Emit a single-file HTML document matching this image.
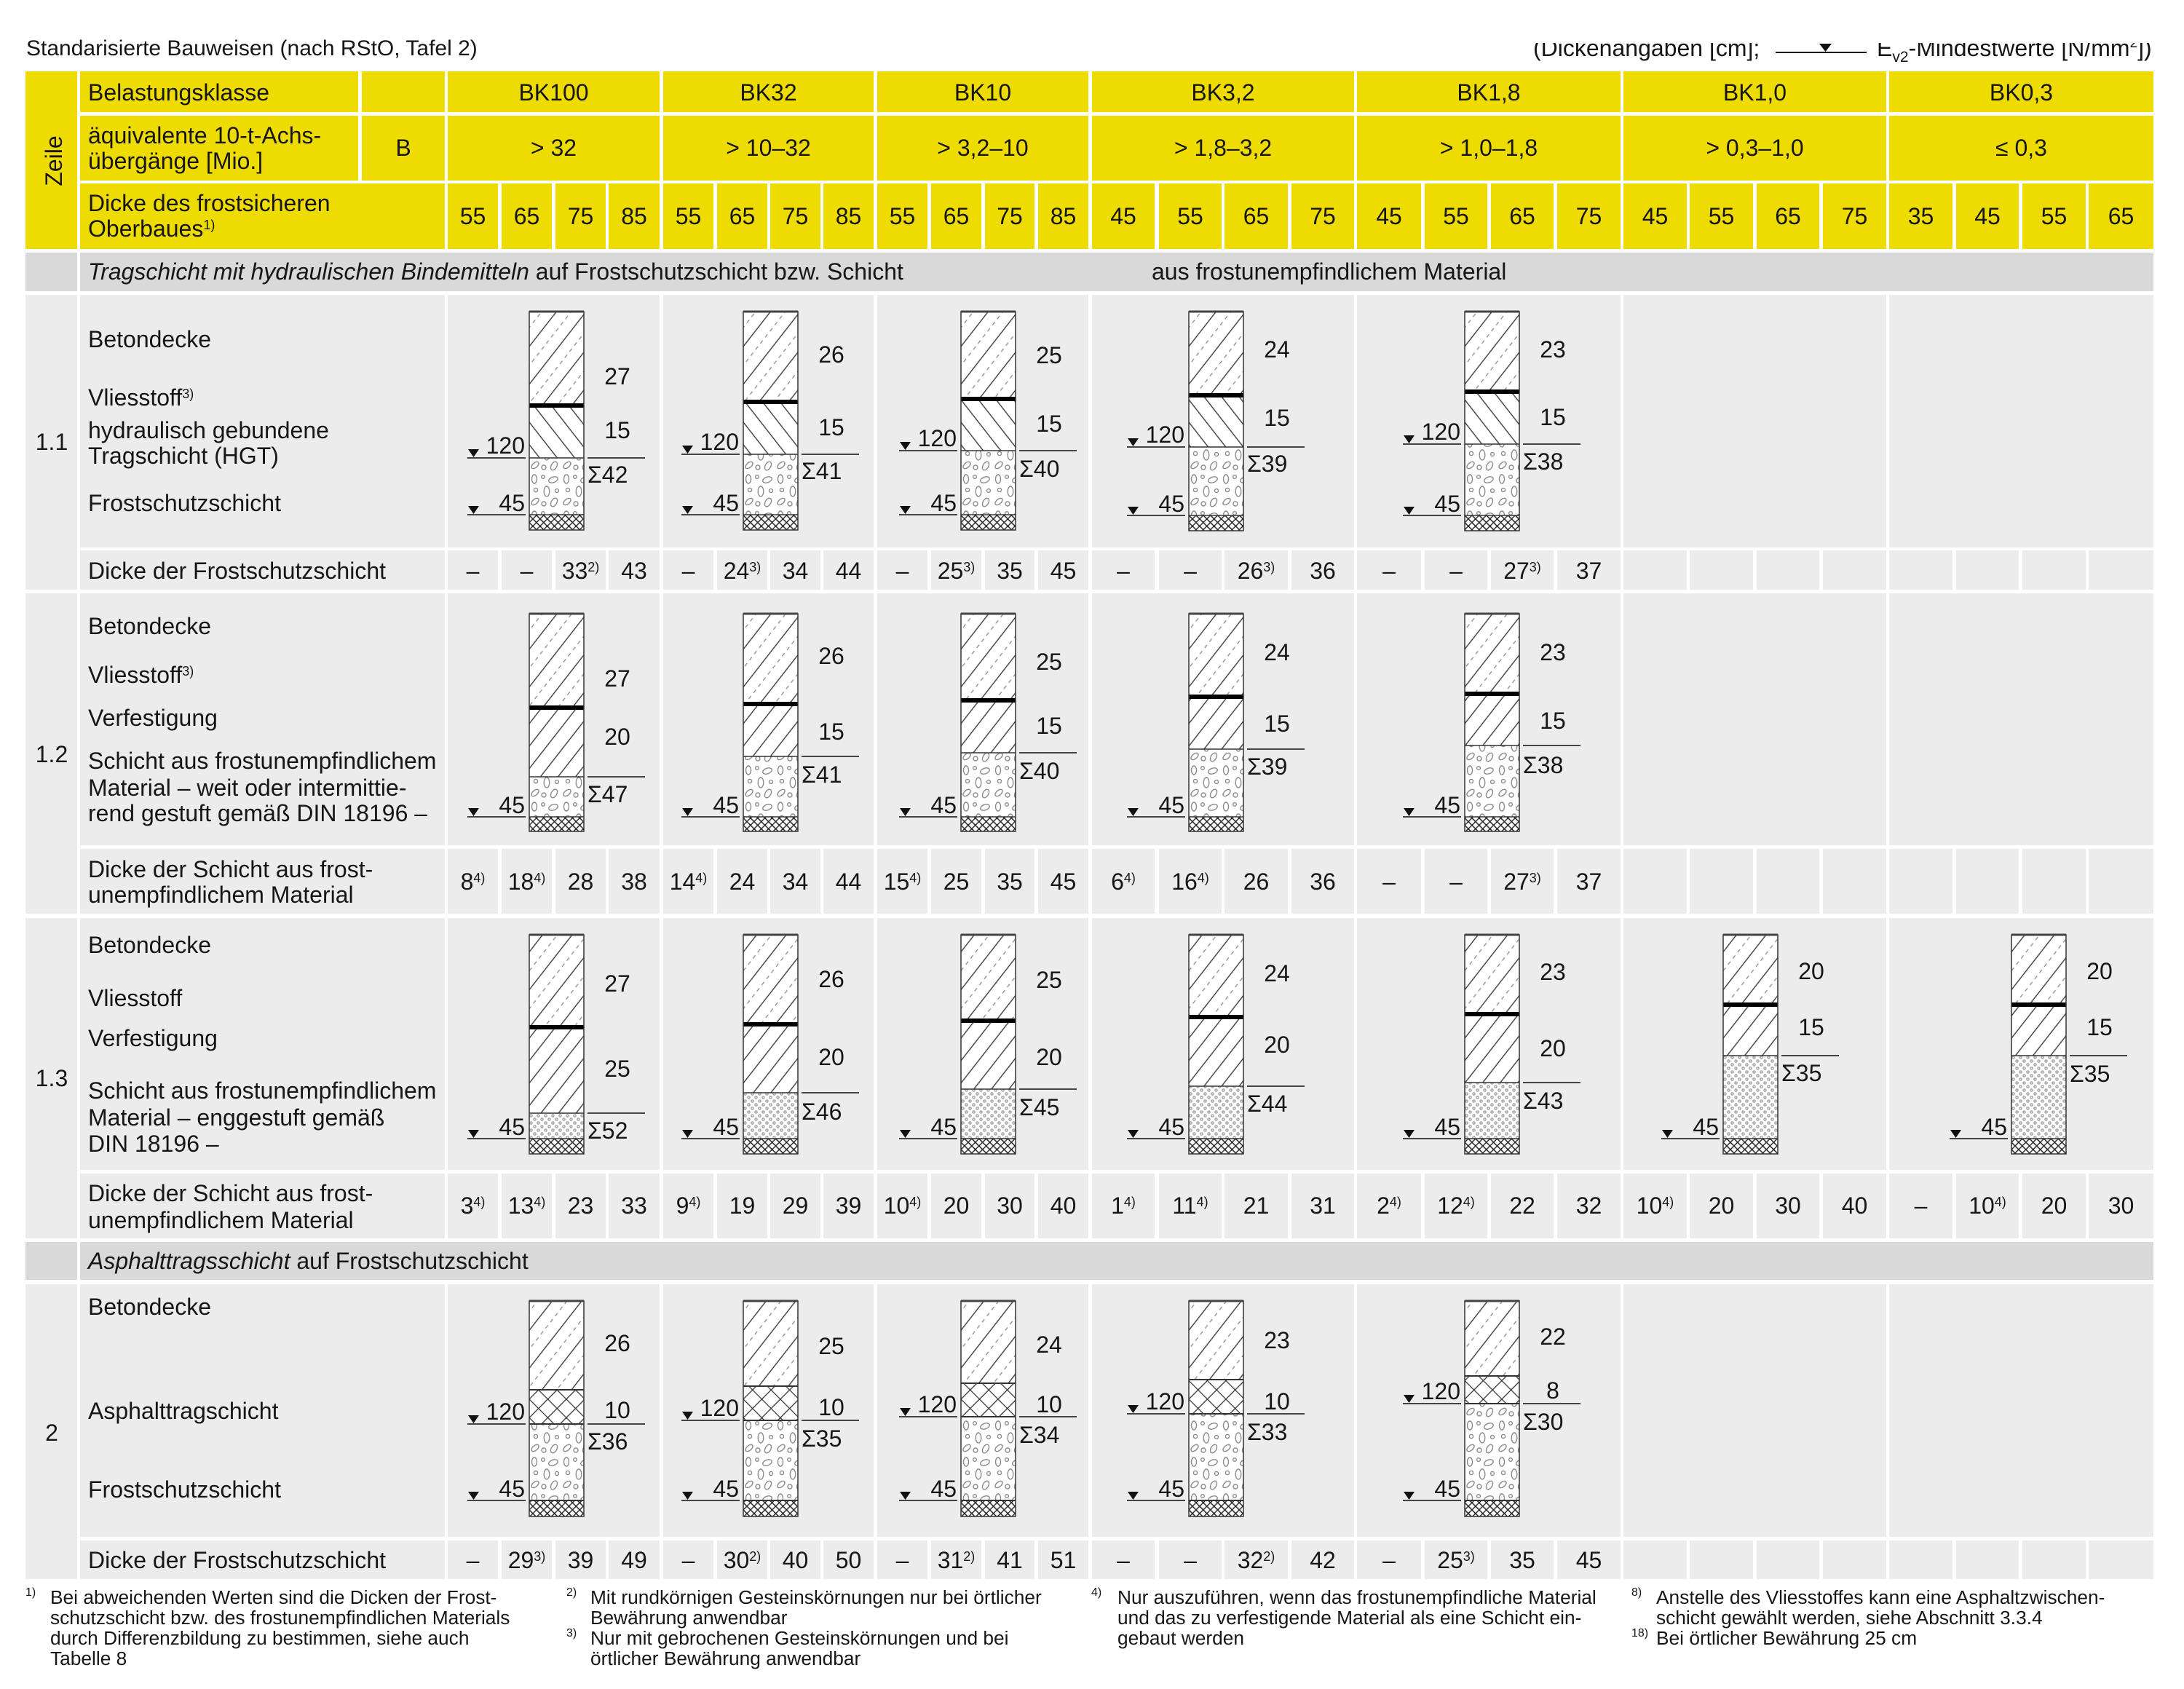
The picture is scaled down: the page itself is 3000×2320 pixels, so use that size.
<!DOCTYPE html>
<html><head><meta charset="utf-8"><style>
html,body{margin:0;padding:0;background:#fff;}
svg{display:block;}
.m{text-anchor:middle}.e{text-anchor:end}
</style></head><body>
<svg xmlns="http://www.w3.org/2000/svg" xmlns:xlink="http://www.w3.org/1999/xlink" width="3000" height="2320" viewBox="0 0 3000 2320" font-family="'Liberation Sans', Arial, Helvetica, sans-serif" font-size="32" fill="#161616">
<defs>
<pattern id="pb" patternUnits="userSpaceOnUse" width="32" height="32" patternTransform="rotate(38)"><rect width="32" height="32" fill="#fff"/><path d="M5,0V32" stroke="#3a3a3a" stroke-width="1.4"/><path d="M21,0V32" stroke="#8a8a8a" stroke-width="1.3" stroke-dasharray="5.33 5.34"/></pattern>
<pattern id="ph" patternUnits="userSpaceOnUse" width="19" height="19" patternTransform="rotate(-38)"><rect width="19" height="19" fill="#fff"/><path d="M4,0V19" stroke="#3a3a3a" stroke-width="1.4"/></pattern>
<pattern id="pv" patternUnits="userSpaceOnUse" width="19" height="19" patternTransform="rotate(38)"><rect width="19" height="19" fill="#fff"/><path d="M4,0V19" stroke="#3a3a3a" stroke-width="1.4"/></pattern>
<pattern id="pa" patternUnits="userSpaceOnUse" width="18" height="18" patternTransform="rotate(45)"><rect width="18" height="18" fill="#fff"/><path d="M9,0V18M0,9H18" stroke="#333" stroke-width="1.3"/></pattern>
<pattern id="pg" patternUnits="userSpaceOnUse" width="44" height="50"><rect width="44" height="50" fill="#fff"/><g fill="none" stroke="#8c8c8c" stroke-width="1.4"><ellipse cx="7" cy="8" rx="3.5" ry="6"/><circle cx="19" cy="5" r="2.3"/><ellipse cx="33" cy="9" rx="6.5" ry="3.8" transform="rotate(-20 33 9)"/><circle cx="9" cy="23" r="2.6"/><ellipse cx="24" cy="25" rx="3.8" ry="7"/><circle cx="38" cy="24" r="2.4"/><ellipse cx="8" cy="39" rx="6" ry="3.3" transform="rotate(-40 8 39)"/><circle cx="20" cy="42" r="3"/><ellipse cx="34" cy="40" rx="3.8" ry="6.3" transform="rotate(30 34 40)"/></g></pattern>
<pattern id="pd" patternUnits="userSpaceOnUse" width="10" height="10"><rect width="10" height="10" fill="#fff"/><g fill="#e4e4e4" stroke="#999" stroke-width="1.1"><circle cx="2.5" cy="2.5" r="1.7"/><circle cx="7.5" cy="7.5" r="1.7"/></g></pattern>
<pattern id="ps" patternUnits="userSpaceOnUse" width="7" height="7" patternTransform="rotate(45)"><rect width="7" height="7" fill="#fff"/><path d="M3.5,0V7M0,3.5H7" stroke="#222" stroke-width="1.4"/></pattern>
<g id="gc"><rect x="615" y="0" width="291" height="1"/><rect x="911" y="0" width="289" height="1"/><rect x="1205" y="0" width="290" height="1"/><rect x="1500" y="0" width="360" height="1"/><rect x="1864" y="0" width="362" height="1"/><rect x="2230" y="0" width="361" height="1"/><rect x="2595" y="0" width="363" height="1"/></g>
<g id="sc"><rect x="615" y="0" width="69" height="1"/><rect x="689" y="0" width="69" height="1"/><rect x="763" y="0" width="69" height="1"/><rect x="836" y="0" width="70" height="1"/><rect x="911" y="0" width="69" height="1"/><rect x="985" y="0" width="69" height="1"/><rect x="1058" y="0" width="69" height="1"/><rect x="1131" y="0" width="69" height="1"/><rect x="1205" y="0" width="69" height="1"/><rect x="1279" y="0" width="69" height="1"/><rect x="1353" y="0" width="68" height="1"/><rect x="1426" y="0" width="69" height="1"/><rect x="1500" y="0" width="86" height="1"/><rect x="1592" y="0" width="86" height="1"/><rect x="1682" y="0" width="87" height="1"/><rect x="1774" y="0" width="86" height="1"/><rect x="1864" y="0" width="88" height="1"/><rect x="1957" y="0" width="86" height="1"/><rect x="2048" y="0" width="86" height="1"/><rect x="2139" y="0" width="87" height="1"/><rect x="2230" y="0" width="87" height="1"/><rect x="2321" y="0" width="87" height="1"/><rect x="2413" y="0" width="86" height="1"/><rect x="2504" y="0" width="87" height="1"/><rect x="2595" y="0" width="87" height="1"/><rect x="2687" y="0" width="86" height="1"/><rect x="2778" y="0" width="87" height="1"/><rect x="2869" y="0" width="89" height="1"/></g>
</defs>

<!-- Title and legend -->
<text x="36" y="76" font-size="30">Standarisierte Bauweisen (nach RStO, Tafel 2)</text>
<text x="2106" y="77" font-size="32">(Dickenangaben [cm];</text>
<path d="M2439,72H2564" stroke="#111" stroke-width="2"/>
<path d="M2499,60h17l-8.5,11z" fill="#111"/>
<text x="2578" y="77" font-size="32">E<tspan font-size="21" dy="8">v2</tspan><tspan dy="-8">-Mindestwerte [N/mm</tspan><tspan font-size="19" dy="-12">2</tspan><tspan dy="12">])</tspan></text>
<rect x="2090" y="0" width="910" height="59" fill="#fff"/>

<!-- Header yellow -->
<g fill="#eedc00">
<rect x="35" y="98" width="71" height="244"/>
<rect x="110" y="98" width="382" height="56"/>
<rect x="497" y="98" width="114" height="56"/>
<rect x="110" y="159" width="382" height="89"/>
<rect x="497" y="159" width="114" height="89"/>
<rect x="110" y="252" width="501" height="90"/>
</g>
<use xlink:href="#gc" href="#gc" fill="#eedc00" transform="translate(0,98) scale(1,56)"/>
<use xlink:href="#gc" href="#gc" fill="#eedc00" transform="translate(0,159) scale(1,89)"/>
<use xlink:href="#sc" href="#sc" fill="#eedc00" transform="translate(0,252) scale(1,90)"/>

<!-- Section headers -->
<g fill="#d9d9d9">
<rect x="35" y="347" width="71" height="53"/><rect x="110" y="347" width="2848" height="53"/>
<rect x="35" y="1706" width="71" height="52"/><rect x="110" y="1706" width="2848" height="52"/>
</g>

<!-- Body cells -->
<g fill="#ececec">
<rect x="35" y="405" width="71" height="405"/>
<rect x="110" y="405" width="501" height="347"/>
<rect x="110" y="756" width="501" height="54"/>
<rect x="35" y="815" width="71" height="440"/>
<rect x="110" y="815" width="501" height="346"/>
<rect x="110" y="1166" width="501" height="89"/>
<rect x="35" y="1261" width="71" height="440"/>
<rect x="110" y="1261" width="501" height="346"/>
<rect x="110" y="1612" width="501" height="89"/>
<rect x="35" y="1764" width="71" height="405"/>
<rect x="110" y="1764" width="501" height="347"/>
<rect x="110" y="2116" width="501" height="53"/>
</g>
<use xlink:href="#gc" href="#gc" fill="#ececec" transform="translate(0,405) scale(1,347)"/>
<use xlink:href="#sc" href="#sc" fill="#ececec" transform="translate(0,756) scale(1,54)"/>
<use xlink:href="#gc" href="#gc" fill="#ececec" transform="translate(0,815) scale(1,346)"/>
<use xlink:href="#sc" href="#sc" fill="#ececec" transform="translate(0,1166) scale(1,89)"/>
<use xlink:href="#gc" href="#gc" fill="#ececec" transform="translate(0,1261) scale(1,346)"/>
<use xlink:href="#sc" href="#sc" fill="#ececec" transform="translate(0,1612) scale(1,89)"/>
<use xlink:href="#gc" href="#gc" fill="#ececec" transform="translate(0,1764) scale(1,347)"/>
<use xlink:href="#sc" href="#sc" fill="#ececec" transform="translate(0,2116) scale(1,53)"/>

<!-- Header text -->
<text transform="translate(85,221) rotate(-90)" class="m">Zeile</text>
<text x="121" y="138">Belastungsklasse</text>
<text y="138" class="m"><tspan x="760.5">BK100</tspan><tspan x="1055.5">BK32</tspan><tspan x="1350">BK10</tspan><tspan x="1680">BK3,2</tspan><tspan x="2045">BK1,8</tspan><tspan x="2410.5">BK1,0</tspan><tspan x="2776.5">BK0,3</tspan></text>
<text x="121" y="197">äquivalente 10-t-Achs-</text>
<text x="121" y="232">übergänge [Mio.]</text>
<text x="554" y="214" class="m">B</text>
<text y="214" class="m"><tspan x="760.5">&gt; 32</tspan><tspan x="1055.5">&gt; 10–32</tspan><tspan x="1350">&gt; 3,2–10</tspan><tspan x="1680">&gt; 1,8–3,2</tspan><tspan x="2045">&gt; 1,0–1,8</tspan><tspan x="2410.5">&gt; 0,3–1,0</tspan><tspan x="2776.5">≤ 0,3</tspan></text>
<text x="121" y="290">Dicke des frostsicheren</text>
<text x="121" y="325">Oberbaues<tspan font-size="18" dy="-10">1)</tspan></text>
<text y="308" class="m"><tspan x="649.5">55</tspan><tspan x="723.5">65</tspan><tspan x="797.5">75</tspan><tspan x="871">85</tspan><tspan x="945.5">55</tspan><tspan x="1019.5">65</tspan><tspan x="1092.5">75</tspan><tspan x="1165.5">85</tspan><tspan x="1239.5">55</tspan><tspan x="1313.5">65</tspan><tspan x="1387">75</tspan><tspan x="1460.5">85</tspan><tspan x="1543">45</tspan><tspan x="1635">55</tspan><tspan x="1725.5">65</tspan><tspan x="1817">75</tspan><tspan x="1908">45</tspan><tspan x="2000">55</tspan><tspan x="2091">65</tspan><tspan x="2182.5">75</tspan><tspan x="2273.5">45</tspan><tspan x="2364.5">55</tspan><tspan x="2456">65</tspan><tspan x="2547.5">75</tspan><tspan x="2638.5">35</tspan><tspan x="2730">45</tspan><tspan x="2821.5">55</tspan><tspan x="2913.5">65</tspan></text>

<!-- Section texts -->
<text x="121" y="384"><tspan font-style="italic">Tragschicht mit hydraulischen Bindemitteln</tspan> auf Frostschutzschicht bzw. Schicht</text>
<text x="1582" y="384">aus frostunempfindlichem Material</text>
<text x="121" y="1743"><tspan font-style="italic">Asphalttragsschicht</tspan> auf Frostschutzschicht</text>

<!-- Row labels -->
<text x="71" y="618" class="m">1.1</text>
<text x="121" y="477">Betondecke</text>
<text x="121" y="557">Vliesstoff<tspan font-size="18" dy="-10">3)</tspan></text>
<text x="121" y="602">hydraulisch gebundene</text>
<text x="121" y="637">Tragschicht (HGT)</text>
<text x="121" y="702">Frostschutzschicht</text>
<text x="121" y="795">Dicke der Frostschutzschicht</text>

<text x="71" y="1047" class="m">1.2</text>
<text x="121" y="871">Betondecke</text>
<text x="121" y="938">Vliesstoff<tspan font-size="18" dy="-10">3)</tspan></text>
<text x="121" y="997">Verfestigung</text>
<text x="121" y="1056">Schicht aus frostunempfindlichem</text>
<text x="121" y="1093">Material – weit oder intermittie-</text>
<text x="121" y="1128">rend gestuft gemäß DIN 18196 –</text>
<text x="121" y="1205">Dicke der Schicht aus frost-</text>
<text x="121" y="1240">unempfindlichem Material</text>

<text x="71" y="1492" class="m">1.3</text>
<text x="121" y="1309">Betondecke</text>
<text x="121" y="1382">Vliesstoff</text>
<text x="121" y="1437">Verfestigung</text>
<text x="121" y="1509">Schicht aus frostunempfindlichem</text>
<text x="121" y="1546">Material – enggestuft gemäß</text>
<text x="121" y="1582">DIN 18196 –</text>
<text x="121" y="1650">Dicke der Schicht aus frost-</text>
<text x="121" y="1687">unempfindlichem Material</text>

<text x="71" y="1979" class="m">2</text>
<text x="121" y="1806">Betondecke</text>
<text x="121" y="1949">Asphalttragschicht</text>
<text x="121" y="2057">Frostschutzschicht</text>
<text x="121" y="2154">Dicke der Frostschutzschicht</text>

<!-- Dicke values row 1.1 -->
<g class="m">
<text x="649.5" y="795">–</text><text x="723.5" y="795">–</text><text x="797.5" y="795">33<tspan font-size="18" dy="-10">2)</tspan></text><text x="871" y="795">43</text>
<text x="945.5" y="795">–</text><text x="1019.5" y="795">24<tspan font-size="18" dy="-10">3)</tspan></text><text x="1092.5" y="795">34</text><text x="1165.5" y="795">44</text>
<text x="1239.5" y="795">–</text><text x="1313.5" y="795">25<tspan font-size="18" dy="-10">3)</tspan></text><text x="1387" y="795">35</text><text x="1460.5" y="795">45</text>
<text x="1543" y="795">–</text><text x="1635" y="795">–</text><text x="1725.5" y="795">26<tspan font-size="18" dy="-10">3)</tspan></text><text x="1817" y="795">36</text>
<text x="1908" y="795">–</text><text x="2000" y="795">–</text><text x="2091" y="795">27<tspan font-size="18" dy="-10">3)</tspan></text><text x="2182.5" y="795">37</text>
</g>
<!-- row 1.2 -->
<g class="m">
<text x="649.5" y="1222">8<tspan font-size="18" dy="-10">4)</tspan></text><text x="723.5" y="1222">18<tspan font-size="18" dy="-10">4)</tspan></text><text x="797.5" y="1222">28</text><text x="871" y="1222">38</text>
<text x="945.5" y="1222">14<tspan font-size="18" dy="-10">4)</tspan></text><text x="1019.5" y="1222">24</text><text x="1092.5" y="1222">34</text><text x="1165.5" y="1222">44</text>
<text x="1239.5" y="1222">15<tspan font-size="18" dy="-10">4)</tspan></text><text x="1313.5" y="1222">25</text><text x="1387" y="1222">35</text><text x="1460.5" y="1222">45</text>
<text x="1543" y="1222">6<tspan font-size="18" dy="-10">4)</tspan></text><text x="1635" y="1222">16<tspan font-size="18" dy="-10">4)</tspan></text><text x="1725.5" y="1222">26</text><text x="1817" y="1222">36</text>
<text x="1908" y="1222">–</text><text x="2000" y="1222">–</text><text x="2091" y="1222">27<tspan font-size="18" dy="-10">3)</tspan></text><text x="2182.5" y="1222">37</text>
</g>
<!-- row 1.3 -->
<g class="m">
<text x="649.5" y="1667">3<tspan font-size="18" dy="-10">4)</tspan></text><text x="723.5" y="1667">13<tspan font-size="18" dy="-10">4)</tspan></text><text x="797.5" y="1667">23</text><text x="871" y="1667">33</text>
<text x="945.5" y="1667">9<tspan font-size="18" dy="-10">4)</tspan></text><text x="1019.5" y="1667">19</text><text x="1092.5" y="1667">29</text><text x="1165.5" y="1667">39</text>
<text x="1239.5" y="1667">10<tspan font-size="18" dy="-10">4)</tspan></text><text x="1313.5" y="1667">20</text><text x="1387" y="1667">30</text><text x="1460.5" y="1667">40</text>
<text x="1543" y="1667">1<tspan font-size="18" dy="-10">4)</tspan></text><text x="1635" y="1667">11<tspan font-size="18" dy="-10">4)</tspan></text><text x="1725.5" y="1667">21</text><text x="1817" y="1667">31</text>
<text x="1908" y="1667">2<tspan font-size="18" dy="-10">4)</tspan></text><text x="2000" y="1667">12<tspan font-size="18" dy="-10">4)</tspan></text><text x="2091" y="1667">22</text><text x="2182.5" y="1667">32</text>
<text x="2273.5" y="1667">10<tspan font-size="18" dy="-10">4)</tspan></text><text x="2364.5" y="1667">20</text><text x="2456" y="1667">30</text><text x="2547.5" y="1667">40</text>
<text x="2638.5" y="1667">–</text><text x="2730" y="1667">10<tspan font-size="18" dy="-10">4)</tspan></text><text x="2821.5" y="1667">20</text><text x="2913.5" y="1667">30</text>
</g>
<!-- row 2 -->
<g class="m">
<text x="649.5" y="2154">–</text><text x="723.5" y="2154">29<tspan font-size="18" dy="-10">3)</tspan></text><text x="797.5" y="2154">39</text><text x="871" y="2154">49</text>
<text x="945.5" y="2154">–</text><text x="1019.5" y="2154">30<tspan font-size="18" dy="-10">2)</tspan></text><text x="1092.5" y="2154">40</text><text x="1165.5" y="2154">50</text>
<text x="1239.5" y="2154">–</text><text x="1313.5" y="2154">31<tspan font-size="18" dy="-10">2)</tspan></text><text x="1387" y="2154">41</text><text x="1460.5" y="2154">51</text>
<text x="1543" y="2154">–</text><text x="1635" y="2154">–</text><text x="1725.5" y="2154">32<tspan font-size="18" dy="-10">2)</tspan></text><text x="1817" y="2154">42</text>
<text x="1908" y="2154">–</text><text x="2000" y="2154">25<tspan font-size="18" dy="-10">3)</tspan></text><text x="2091" y="2154">35</text><text x="2182.5" y="2154">45</text>
</g>

<!-- ===== Diagrams Row 1.1 ===== -->
<g transform="translate(727,0)">
<rect y="428" width="75" height="129" fill="url(#pb)"/><rect y="557" width="75" height="72" fill="url(#ph)"/><rect y="629" width="75" height="78" fill="url(#pg)"/><rect y="707" width="75" height="21" fill="url(#ps)"/>
<path d="M0,629H75M0,707H75" stroke="#333" stroke-width="1.5"/><path d="M0,557H75" stroke="#000" stroke-width="6"/>
<rect y="428" width="75" height="300" fill="none" stroke="#333" stroke-width="1.5"/><path d="M0,428H75" stroke="#444" stroke-width="3"/>
<text x="121" y="528" class="m">27</text><text x="121" y="602" class="m">15</text>
<path d="M80,629H159M-85,629H-5M-85,707H-5" stroke="#444" stroke-width="2"/><text x="80" y="663">Σ42</text>
<path d="M-84,617h15l-7.5,11zM-84,695h15l-7.5,11z" fill="#111"/><text x="-6" y="623" class="e">120</text><text x="-6" y="702" class="e">45</text>
</g>
<g transform="translate(1021,0)">
<rect y="428" width="75" height="124" fill="url(#pb)"/><rect y="552" width="75" height="72" fill="url(#ph)"/><rect y="624" width="75" height="83" fill="url(#pg)"/><rect y="707" width="75" height="21" fill="url(#ps)"/>
<path d="M0,624H75M0,707H75" stroke="#333" stroke-width="1.5"/><path d="M0,552H75" stroke="#000" stroke-width="6"/>
<rect y="428" width="75" height="300" fill="none" stroke="#333" stroke-width="1.5"/><path d="M0,428H75" stroke="#444" stroke-width="3"/>
<text x="121" y="498" class="m">26</text><text x="121" y="598" class="m">15</text>
<path d="M80,624H159M-85,624H-5M-85,707H-5" stroke="#444" stroke-width="2"/><text x="80" y="658">Σ41</text>
<path d="M-84,612h15l-7.5,11zM-84,695h15l-7.5,11z" fill="#111"/><text x="-6" y="618" class="e">120</text><text x="-6" y="702" class="e">45</text>
</g>
<g transform="translate(1320,0)">
<rect y="428" width="75" height="120" fill="url(#pb)"/><rect y="548" width="75" height="71" fill="url(#ph)"/><rect y="619" width="75" height="88" fill="url(#pg)"/><rect y="707" width="75" height="21" fill="url(#ps)"/>
<path d="M0,619H75M0,707H75" stroke="#333" stroke-width="1.5"/><path d="M0,548H75" stroke="#000" stroke-width="6"/>
<rect y="428" width="75" height="300" fill="none" stroke="#333" stroke-width="1.5"/><path d="M0,428H75" stroke="#444" stroke-width="3"/>
<text x="121" y="499" class="m">25</text><text x="121" y="593" class="m">15</text>
<path d="M80,619H159M-85,619H-5M-85,707H-5" stroke="#444" stroke-width="2"/><text x="80" y="655">Σ40</text>
<path d="M-84,607h15l-7.5,11zM-84,695h15l-7.5,11z" fill="#111"/><text x="-6" y="613" class="e">120</text><text x="-6" y="702" class="e">45</text>
</g>
<g transform="translate(1633,0)">
<rect y="428" width="75" height="115" fill="url(#pb)"/><rect y="543" width="75" height="71" fill="url(#ph)"/><rect y="614" width="75" height="94" fill="url(#pg)"/><rect y="708" width="75" height="21" fill="url(#ps)"/>
<path d="M0,614H75M0,708H75" stroke="#333" stroke-width="1.5"/><path d="M0,543H75" stroke="#000" stroke-width="6"/>
<rect y="428" width="75" height="301" fill="none" stroke="#333" stroke-width="1.5"/><path d="M0,428H75" stroke="#444" stroke-width="3"/>
<text x="121" y="491" class="m">24</text><text x="121" y="585" class="m">15</text>
<path d="M80,614H159M-85,614H-5M-85,708H-5" stroke="#444" stroke-width="2"/><text x="80" y="648">Σ39</text>
<path d="M-84,602h15l-7.5,11zM-84,696h15l-7.5,11z" fill="#111"/><text x="-6" y="608" class="e">120</text><text x="-6" y="703" class="e">45</text>
</g>
<g transform="translate(2012,0)">
<rect y="428" width="75" height="110" fill="url(#pb)"/><rect y="538" width="75" height="72" fill="url(#ph)"/><rect y="610" width="75" height="98" fill="url(#pg)"/><rect y="708" width="75" height="21" fill="url(#ps)"/>
<path d="M0,610H75M0,708H75" stroke="#333" stroke-width="1.5"/><path d="M0,538H75" stroke="#000" stroke-width="6"/>
<rect y="428" width="75" height="301" fill="none" stroke="#333" stroke-width="1.5"/><path d="M0,428H75" stroke="#444" stroke-width="3"/>
<text x="121" y="491" class="m">23</text><text x="121" y="584" class="m">15</text>
<path d="M80,610H159M-85,610H-5M-85,708H-5" stroke="#444" stroke-width="2"/><text x="80" y="645">Σ38</text>
<path d="M-84,598h15l-7.5,11zM-84,696h15l-7.5,11z" fill="#111"/><text x="-6" y="604" class="e">120</text><text x="-6" y="703" class="e">45</text>
</g>

<!-- ===== Diagrams Row 1.2 ===== -->
<g transform="translate(727,0)">
<rect y="843" width="75" height="129" fill="url(#pb)"/><rect y="972" width="75" height="95" fill="url(#pv)"/><rect y="1067" width="75" height="55" fill="url(#pg)"/><rect y="1122" width="75" height="20" fill="url(#ps)"/>
<path d="M0,1067H75M0,1122H75" stroke="#333" stroke-width="1.5"/><path d="M0,972H75" stroke="#000" stroke-width="6"/>
<rect y="843" width="75" height="299" fill="none" stroke="#333" stroke-width="1.5"/><path d="M0,843H75" stroke="#444" stroke-width="3"/>
<text x="121" y="943" class="m">27</text><text x="121" y="1023" class="m">20</text>
<path d="M80,1067H159M-85,1122H-5" stroke="#444" stroke-width="2"/><text x="80" y="1102">Σ47</text>
<path d="M-84,1110h15l-7.5,11z" fill="#111"/><text x="-6" y="1117" class="e">45</text>
</g>
<g transform="translate(1021,0)">
<rect y="843" width="75" height="124" fill="url(#pb)"/><rect y="967" width="75" height="72" fill="url(#pv)"/><rect y="1039" width="75" height="83" fill="url(#pg)"/><rect y="1122" width="75" height="20" fill="url(#ps)"/>
<path d="M0,1039H75M0,1122H75" stroke="#333" stroke-width="1.5"/><path d="M0,967H75" stroke="#000" stroke-width="6"/>
<rect y="843" width="75" height="299" fill="none" stroke="#333" stroke-width="1.5"/><path d="M0,843H75" stroke="#444" stroke-width="3"/>
<text x="121" y="912" class="m">26</text><text x="121" y="1016" class="m">15</text>
<path d="M80,1039H159M-85,1122H-5" stroke="#444" stroke-width="2"/><text x="80" y="1075">Σ41</text>
<path d="M-84,1110h15l-7.5,11z" fill="#111"/><text x="-6" y="1117" class="e">45</text>
</g>
<g transform="translate(1320,0)">
<rect y="843" width="75" height="119" fill="url(#pb)"/><rect y="962" width="75" height="72" fill="url(#pv)"/><rect y="1034" width="75" height="88" fill="url(#pg)"/><rect y="1122" width="75" height="20" fill="url(#ps)"/>
<path d="M0,1034H75M0,1122H75" stroke="#333" stroke-width="1.5"/><path d="M0,962H75" stroke="#000" stroke-width="6"/>
<rect y="843" width="75" height="299" fill="none" stroke="#333" stroke-width="1.5"/><path d="M0,843H75" stroke="#444" stroke-width="3"/>
<text x="121" y="920" class="m">25</text><text x="121" y="1008" class="m">15</text>
<path d="M80,1034H159M-85,1122H-5" stroke="#444" stroke-width="2"/><text x="80" y="1070">Σ40</text>
<path d="M-84,1110h15l-7.5,11z" fill="#111"/><text x="-6" y="1117" class="e">45</text>
</g>
<g transform="translate(1633,0)">
<rect y="843" width="75" height="114" fill="url(#pb)"/><rect y="957" width="75" height="72" fill="url(#pv)"/><rect y="1029" width="75" height="93" fill="url(#pg)"/><rect y="1122" width="75" height="20" fill="url(#ps)"/>
<path d="M0,1029H75M0,1122H75" stroke="#333" stroke-width="1.5"/><path d="M0,957H75" stroke="#000" stroke-width="6"/>
<rect y="843" width="75" height="299" fill="none" stroke="#333" stroke-width="1.5"/><path d="M0,843H75" stroke="#444" stroke-width="3"/>
<text x="121" y="907" class="m">24</text><text x="121" y="1005" class="m">15</text>
<path d="M80,1029H159M-85,1122H-5" stroke="#444" stroke-width="2"/><text x="80" y="1064">Σ39</text>
<path d="M-84,1110h15l-7.5,11z" fill="#111"/><text x="-6" y="1117" class="e">45</text>
</g>
<g transform="translate(2012,0)">
<rect y="843" width="75" height="110" fill="url(#pb)"/><rect y="953" width="75" height="71" fill="url(#pv)"/><rect y="1024" width="75" height="98" fill="url(#pg)"/><rect y="1122" width="75" height="20" fill="url(#ps)"/>
<path d="M0,1024H75M0,1122H75" stroke="#333" stroke-width="1.5"/><path d="M0,953H75" stroke="#000" stroke-width="6"/>
<rect y="843" width="75" height="299" fill="none" stroke="#333" stroke-width="1.5"/><path d="M0,843H75" stroke="#444" stroke-width="3"/>
<text x="121" y="907" class="m">23</text><text x="121" y="1001" class="m">15</text>
<path d="M80,1024H159M-85,1122H-5" stroke="#444" stroke-width="2"/><text x="80" y="1062">Σ38</text>
<path d="M-84,1110h15l-7.5,11z" fill="#111"/><text x="-6" y="1117" class="e">45</text>
</g>

<!-- ===== Diagrams Row 1.3 ===== -->
<g transform="translate(727,0)">
<rect y="1284" width="75" height="127" fill="url(#pb)"/><rect y="1411" width="75" height="118" fill="url(#pv)"/><rect y="1529" width="75" height="35" fill="url(#pd)"/><rect y="1564" width="75" height="21" fill="url(#ps)"/>
<path d="M0,1529H75M0,1564H75" stroke="#333" stroke-width="1.5"/><path d="M0,1411H75" stroke="#000" stroke-width="6"/>
<rect y="1284" width="75" height="301" fill="none" stroke="#333" stroke-width="1.5"/><path d="M0,1284H75" stroke="#444" stroke-width="3"/>
<text x="121" y="1362" class="m">27</text><text x="121" y="1479" class="m">25</text>
<path d="M80,1529H159M-85,1564H-5" stroke="#444" stroke-width="2"/><text x="80" y="1564">Σ52</text>
<path d="M-84,1552h15l-7.5,11z" fill="#111"/><text x="-6" y="1559" class="e">45</text>
</g>
<g transform="translate(1021,0)">
<rect y="1284" width="75" height="123" fill="url(#pb)"/><rect y="1407" width="75" height="94" fill="url(#pv)"/><rect y="1501" width="75" height="63" fill="url(#pd)"/><rect y="1564" width="75" height="21" fill="url(#ps)"/>
<path d="M0,1501H75M0,1564H75" stroke="#333" stroke-width="1.5"/><path d="M0,1407H75" stroke="#000" stroke-width="6"/>
<rect y="1284" width="75" height="301" fill="none" stroke="#333" stroke-width="1.5"/><path d="M0,1284H75" stroke="#444" stroke-width="3"/>
<text x="121" y="1356" class="m">26</text><text x="121" y="1463" class="m">20</text>
<path d="M80,1501H159M-85,1564H-5" stroke="#444" stroke-width="2"/><text x="80" y="1538">Σ46</text>
<path d="M-84,1552h15l-7.5,11z" fill="#111"/><text x="-6" y="1559" class="e">45</text>
</g>
<g transform="translate(1320,0)">
<rect y="1284" width="75" height="118" fill="url(#pb)"/><rect y="1402" width="75" height="94" fill="url(#pv)"/><rect y="1496" width="75" height="68" fill="url(#pd)"/><rect y="1564" width="75" height="21" fill="url(#ps)"/>
<path d="M0,1496H75M0,1564H75" stroke="#333" stroke-width="1.5"/><path d="M0,1402H75" stroke="#000" stroke-width="6"/>
<rect y="1284" width="75" height="301" fill="none" stroke="#333" stroke-width="1.5"/><path d="M0,1284H75" stroke="#444" stroke-width="3"/>
<text x="121" y="1357" class="m">25</text><text x="121" y="1463" class="m">20</text>
<path d="M80,1496H159M-85,1564H-5" stroke="#444" stroke-width="2"/><text x="80" y="1532">Σ45</text>
<path d="M-84,1552h15l-7.5,11z" fill="#111"/><text x="-6" y="1559" class="e">45</text>
</g>
<g transform="translate(1633,0)">
<rect y="1284" width="75" height="113" fill="url(#pb)"/><rect y="1397" width="75" height="95" fill="url(#pv)"/><rect y="1492" width="75" height="72" fill="url(#pd)"/><rect y="1564" width="75" height="21" fill="url(#ps)"/>
<path d="M0,1492H75M0,1564H75" stroke="#333" stroke-width="1.5"/><path d="M0,1397H75" stroke="#000" stroke-width="6"/>
<rect y="1284" width="75" height="301" fill="none" stroke="#333" stroke-width="1.5"/><path d="M0,1284H75" stroke="#444" stroke-width="3"/>
<text x="121" y="1348" class="m">24</text><text x="121" y="1446" class="m">20</text>
<path d="M80,1492H159M-85,1564H-5" stroke="#444" stroke-width="2"/><text x="80" y="1527">Σ44</text>
<path d="M-84,1552h15l-7.5,11z" fill="#111"/><text x="-6" y="1559" class="e">45</text>
</g>
<g transform="translate(2012,0)">
<rect y="1284" width="75" height="109" fill="url(#pb)"/><rect y="1393" width="75" height="94" fill="url(#pv)"/><rect y="1487" width="75" height="77" fill="url(#pd)"/><rect y="1564" width="75" height="21" fill="url(#ps)"/>
<path d="M0,1487H75M0,1564H75" stroke="#333" stroke-width="1.5"/><path d="M0,1393H75" stroke="#000" stroke-width="6"/>
<rect y="1284" width="75" height="301" fill="none" stroke="#333" stroke-width="1.5"/><path d="M0,1284H75" stroke="#444" stroke-width="3"/>
<text x="121" y="1346" class="m">23</text><text x="121" y="1451" class="m">20</text>
<path d="M80,1487H159M-85,1564H-5" stroke="#444" stroke-width="2"/><text x="80" y="1523">Σ43</text>
<path d="M-84,1552h15l-7.5,11z" fill="#111"/><text x="-6" y="1559" class="e">45</text>
</g>
<g transform="translate(2367,0)">
<rect y="1284" width="75" height="96" fill="url(#pb)"/><rect y="1380" width="75" height="70" fill="url(#pv)"/><rect y="1450" width="75" height="114" fill="url(#pd)"/><rect y="1564" width="75" height="21" fill="url(#ps)"/>
<path d="M0,1450H75M0,1564H75" stroke="#333" stroke-width="1.5"/><path d="M0,1380H75" stroke="#000" stroke-width="6"/>
<rect y="1284" width="75" height="301" fill="none" stroke="#333" stroke-width="1.5"/><path d="M0,1284H75" stroke="#444" stroke-width="3"/>
<text x="121" y="1345" class="m">20</text><text x="121" y="1422" class="m">15</text>
<path d="M80,1450H159M-85,1564H-5" stroke="#444" stroke-width="2"/><text x="80" y="1485">Σ35</text>
<path d="M-84,1552h15l-7.5,11z" fill="#111"/><text x="-6" y="1559" class="e">45</text>
</g>
<g transform="translate(2763,0)">
<rect y="1284" width="75" height="96" fill="url(#pb)"/><rect y="1380" width="75" height="70" fill="url(#pv)"/><rect y="1450" width="75" height="114" fill="url(#pd)"/><rect y="1564" width="75" height="21" fill="url(#ps)"/>
<path d="M0,1450H75M0,1564H75" stroke="#333" stroke-width="1.5"/><path d="M0,1380H75" stroke="#000" stroke-width="6"/>
<rect y="1284" width="75" height="301" fill="none" stroke="#333" stroke-width="1.5"/><path d="M0,1284H75" stroke="#444" stroke-width="3"/>
<text x="121" y="1345" class="m">20</text><text x="121" y="1422" class="m">15</text>
<path d="M80,1450H159M-85,1564H-5" stroke="#444" stroke-width="2"/><text x="80" y="1486">Σ35</text>
<path d="M-84,1552h15l-7.5,11z" fill="#111"/><text x="-6" y="1559" class="e">45</text>
</g>

<!-- ===== Diagrams Row 2 ===== -->
<g transform="translate(727,0)">
<rect y="1787" width="75" height="122" fill="url(#pb)"/><rect y="1909" width="75" height="47" fill="url(#pa)"/><rect y="1956" width="75" height="105" fill="url(#pg)"/><rect y="2061" width="75" height="22" fill="url(#ps)"/>
<path d="M0,1909H75M0,1956H75M0,2061H75" stroke="#333" stroke-width="2"/>
<rect y="1787" width="75" height="296" fill="none" stroke="#333" stroke-width="1.5"/><path d="M0,1787H75" stroke="#444" stroke-width="3"/>
<text x="121" y="1856" class="m">26</text><text x="121" y="1948" class="m">10</text>
<path d="M80,1956H159M-85,1956H-5M-85,2061H-5" stroke="#444" stroke-width="2"/><text x="80" y="1991">Σ36</text>
<path d="M-84,1944h15l-7.5,11zM-84,2049h15l-7.5,11z" fill="#111"/><text x="-6" y="1950" class="e">120</text><text x="-6" y="2056" class="e">45</text>
</g>
<g transform="translate(1021,0)">
<rect y="1787" width="75" height="117" fill="url(#pb)"/><rect y="1904" width="75" height="47" fill="url(#pa)"/><rect y="1951" width="75" height="110" fill="url(#pg)"/><rect y="2061" width="75" height="22" fill="url(#ps)"/>
<path d="M0,1904H75M0,1951H75M0,2061H75" stroke="#333" stroke-width="2"/>
<rect y="1787" width="75" height="296" fill="none" stroke="#333" stroke-width="1.5"/><path d="M0,1787H75" stroke="#444" stroke-width="3"/>
<text x="121" y="1860" class="m">25</text><text x="121" y="1944" class="m">10</text>
<path d="M80,1951H159M-85,1951H-5M-85,2061H-5" stroke="#444" stroke-width="2"/><text x="80" y="1987">Σ35</text>
<path d="M-84,1939h15l-7.5,11zM-84,2049h15l-7.5,11z" fill="#111"/><text x="-6" y="1945" class="e">120</text><text x="-6" y="2056" class="e">45</text>
</g>
<g transform="translate(1320,0)">
<rect y="1787" width="75" height="113" fill="url(#pb)"/><rect y="1900" width="75" height="46" fill="url(#pa)"/><rect y="1946" width="75" height="115" fill="url(#pg)"/><rect y="2061" width="75" height="22" fill="url(#ps)"/>
<path d="M0,1900H75M0,1946H75M0,2061H75" stroke="#333" stroke-width="2"/>
<rect y="1787" width="75" height="296" fill="none" stroke="#333" stroke-width="1.5"/><path d="M0,1787H75" stroke="#444" stroke-width="3"/>
<text x="121" y="1858" class="m">24</text><text x="121" y="1940" class="m">10</text>
<path d="M80,1946H159M-85,1946H-5M-85,2061H-5" stroke="#444" stroke-width="2"/><text x="80" y="1982">Σ34</text>
<path d="M-84,1934h15l-7.5,11zM-84,2049h15l-7.5,11z" fill="#111"/><text x="-6" y="1940" class="e">120</text><text x="-6" y="2056" class="e">45</text>
</g>
<g transform="translate(1633,0)">
<rect y="1787" width="75" height="108" fill="url(#pb)"/><rect y="1895" width="75" height="47" fill="url(#pa)"/><rect y="1942" width="75" height="119" fill="url(#pg)"/><rect y="2061" width="75" height="22" fill="url(#ps)"/>
<path d="M0,1895H75M0,1942H75M0,2061H75" stroke="#333" stroke-width="2"/>
<rect y="1787" width="75" height="296" fill="none" stroke="#333" stroke-width="1.5"/><path d="M0,1787H75" stroke="#444" stroke-width="3"/>
<text x="121" y="1852" class="m">23</text><text x="121" y="1936" class="m">10</text>
<path d="M80,1942H159M-85,1942H-5M-85,2061H-5" stroke="#444" stroke-width="2"/><text x="80" y="1978">Σ33</text>
<path d="M-84,1930h15l-7.5,11zM-84,2049h15l-7.5,11z" fill="#111"/><text x="-6" y="1936" class="e">120</text><text x="-6" y="2056" class="e">45</text>
</g>
<g transform="translate(2012,0)">
<rect y="1787" width="75" height="103" fill="url(#pb)"/><rect y="1890" width="75" height="38" fill="url(#pa)"/><rect y="1928" width="75" height="133" fill="url(#pg)"/><rect y="2061" width="75" height="22" fill="url(#ps)"/>
<path d="M0,1890H75M0,1928H75M0,2061H75" stroke="#333" stroke-width="2"/>
<rect y="1787" width="75" height="296" fill="none" stroke="#333" stroke-width="1.5"/><path d="M0,1787H75" stroke="#444" stroke-width="3"/>
<text x="121" y="1847" class="m">22</text><text x="121" y="1921" class="m">8</text>
<path d="M80,1928H159M-85,1928H-5M-85,2061H-5" stroke="#444" stroke-width="2"/><text x="80" y="1964">Σ30</text>
<path d="M-84,1916h15l-7.5,11zM-84,2049h15l-7.5,11z" fill="#111"/><text x="-6" y="1922" class="e">120</text><text x="-6" y="2056" class="e">45</text>
</g>

<!-- Footnotes -->
<g font-size="26.3">
<text x="35" y="2192" font-size="16">1)</text>
<text x="69" y="2203">Bei abweichenden Werten sind die Dicken der Frost-</text>
<text x="69" y="2231">schutzschicht bzw. des frostunempfindlichen Materials</text>
<text x="69" y="2259">durch Differenzbildung zu bestimmen, siehe auch</text>
<text x="69" y="2287">Tabelle 8</text>
<text x="778" y="2192" font-size="16">2)</text>
<text x="811" y="2203">Mit rundkörnigen Gesteinskörnungen nur bei örtlicher</text>
<text x="811" y="2231">Bewährung anwendbar</text>
<text x="778" y="2248" font-size="16">3)</text>
<text x="811" y="2259">Nur mit gebrochenen Gesteinskörnungen und bei</text>
<text x="811" y="2287">örtlicher Bewährung anwendbar</text>
<text x="1499" y="2192" font-size="16">4)</text>
<text x="1535" y="2203">Nur auszuführen, wenn das frostunempfindliche Material</text>
<text x="1535" y="2231">und das zu verfestigende Material als eine Schicht ein-</text>
<text x="1535" y="2259">gebaut werden</text>
<text x="2241" y="2192" font-size="16">8)</text>
<text x="2275" y="2203">Anstelle des Vliesstoffes kann eine Asphaltzwischen-</text>
<text x="2275" y="2231">schicht gewählt werden, siehe Abschnitt 3.3.4</text>
<text x="2241" y="2248" font-size="16">18)</text>
<text x="2275" y="2259">Bei örtlicher Bewährung 25 cm</text>
</g>
</svg>
</body></html>
